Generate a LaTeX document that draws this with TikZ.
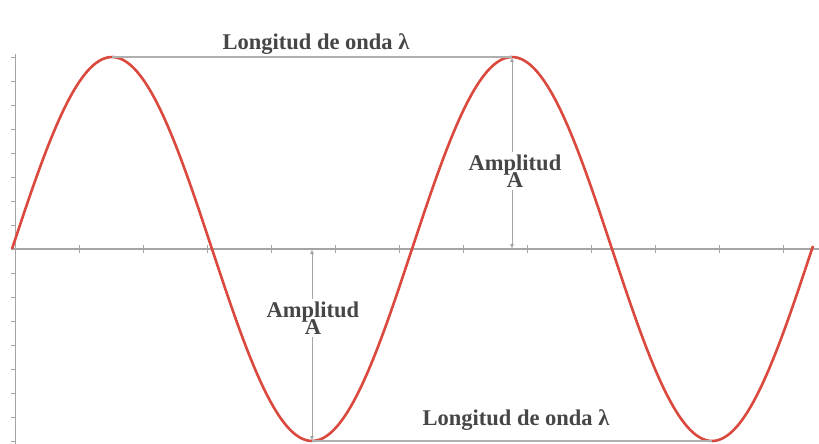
\documentclass[tikz,border=0pt]{standalone}
\usepackage{fontspec}
\setmainfont{Liberation Serif}
\usetikzlibrary{arrows.meta}
\definecolor{wavered}{RGB}{218,72,62}
\definecolor{axisgray}{RGB}{165,165,165}
\definecolor{dimgray}{RGB}{175,175,175}
\definecolor{txtgray}{RGB}{70,70,70}
\tikzset{
  wave/.style={wavered, line width=2.6pt, line join=round},
  axisline/.style={axisgray, line width=1.3pt},
  tickline/.style={axisgray, line width=1pt},
  dimline/.style={dimgray, line width=1.5pt},
  ampline/.style={axisgray, line width=1pt, {Latex[length=5pt,width=4pt]}-{Latex[length=5pt,width=4pt]}},
  dimtext/.style={text=txtgray, font=\fontsize{22.5}{23}\selectfont\bfseries, inner sep=0pt},
  amptext/.style={text=txtgray, fill=white, align=center, inner sep=3pt, font=\fontsize{22.5}{23}\selectfont\bfseries}
}
\begin{document}
\begin{tikzpicture}[x=1pt,y=-1pt]
\useasboundingbox[fill=white] (0,0) rectangle (819,444);
% axes
\coordinate (o) at (13,249);
\coordinate (xend) at (819,249);
\coordinate (ytop) at (15,54);
\coordinate (ybot) at (15,444);
\draw[axisline] (o) -- (xend);
\draw[tickline, line width=0.8pt] (ytop) -- (ybot);
\foreach \k in {1,...,12} {\draw[tickline] ({15+64*\k},245) -- ({15+64*\k},253);}
\foreach \k in {-8,...,8} {\draw[tickline, line width=0.7pt] (11,{249+24*\k}) -- (15,{249+24*\k});}
% wave
\draw[wave] plot[domain=0:801, samples=240, smooth] ({12+\x},{249-192*sin(0.9*\x)});
% key points
\coordinate (p1) at (112,57);
\coordinate (p2) at (512,57);
\coordinate (t1) at (312,441);
\coordinate (t2) at (712,441);
\coordinate (ax1) at (312,249);
\coordinate (ax2) at (512,249);
% wavelength dimension lines
\draw[dimline] (p1) -- (p2);
\draw[dimline] (t1) -- (t2);
\node[dimtext, anchor=base] (wl1) at (316,50) {Longitud de onda λ};
\node[dimtext, anchor=base] (wl2) at (516,425) {Longitud de onda λ};
% amplitude arrows
\draw[ampline] (p2) -- (ax2);
\draw[ampline] (ax1) -- (t1);
\node[amptext] (am2) at (515,171) {Amplitud\\[-6pt]A};
\node[amptext] (am1) at (313,318) {Amplitud\\[-6pt]A};
\end{tikzpicture}
\end{document}
